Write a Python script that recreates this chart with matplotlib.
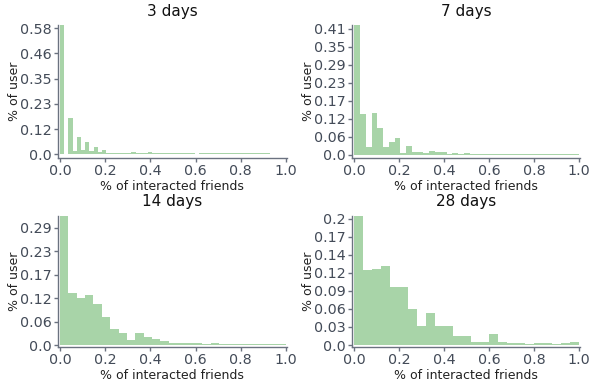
import numpy as np
import matplotlib
matplotlib.use("Agg")
import matplotlib.pyplot as plt

titles = ["3 days", "7 days", "14 days", "28 days"]

# histogram ranges (data min/max) and bin counts
x_max = [0.93, 1.0, 1.0, 1.0]
n_bins = [50, 39, 27, 25]

h3 = [0.591, 0.0, 0.166, 0.017, 0.079, 0.020, 0.056, 0.015, 0.034, 0.012,
      0.021, 0.006, 0.008, 0.008, 0.006, 0.006, 0.006, 0.012, 0.006, 0.006,
      0.007, 0.009, 0.006, 0.006, 0.006, 0.006, 0.006, 0.006, 0.006, 0.006,
      0.006, 0.006, 0.0, 0.006, 0.006, 0.006, 0.006, 0.006, 0.006, 0.006,
      0.006, 0.006, 0.006, 0.006, 0.006, 0.006, 0.006, 0.006, 0.006, 0.006]
h7 = [0.416, 0.132, 0.027, 0.134, 0.087, 0.027, 0.042, 0.055, 0.005, 0.029,
      0.010, 0.010, 0.005, 0.013, 0.008, 0.010, 0.004, 0.005, 0.004, 0.006,
      0.004, 0.004, 0.004, 0.004, 0.004, 0.004, 0.004, 0.004, 0.004, 0.004,
      0.004, 0.004, 0.004, 0.004, 0.004, 0.004, 0.004, 0.004, 0.004]
h14 = [0.318, 0.129, 0.117, 0.124, 0.102, 0.068, 0.040, 0.030, 0.013, 0.030,
       0.019, 0.014, 0.009, 0.005, 0.006, 0.004, 0.004, 0.003, 0.005, 0.003,
       0.003, 0.003, 0.003, 0.003, 0.003, 0.003, 0.003]
h28 = [0.207, 0.1205, 0.122, 0.126, 0.093, 0.093, 0.057, 0.031, 0.052, 0.031,
       0.031, 0.015, 0.015, 0.0053, 0.0053, 0.018, 0.0053, 0.0025, 0.0025, 0.001,
       0.0025, 0.0025, 0.001, 0.0025, 0.0053]
heights = [h3, h7, h14, h28]

ytick_labels = [
    ["0.0", "0.12", "0.23", "0.35", "0.46", "0.58"],
    ["0.0", "0.06", "0.12", "0.17", "0.23", "0.29", "0.35", "0.41"],
    ["0.0", "0.06", "0.12", "0.17", "0.23", "0.29"],
    ["0.0", "0.03", "0.06", "0.09", "0.12", "0.14", "0.17", "0.2"],
]
ytick_step = [0.1158, 0.0579, 0.0579, 0.02895]
xticks = [0.0, 0.2, 0.4, 0.6, 0.8, 1.0]
xtick_labels = ["0.0", "0.2", "0.4", "0.6", "0.8", "1.0"]

ylims = [(-0.0155, 0.591), (-0.0087, 0.416), (-0.0035, 0.318), (-0.0024, 0.207)]

bar_color = "#a8d4a8"
spine_color = "#6b7280"
tick_text = "#434b58"

fig = plt.figure(figsize=(5.89, 3.85), dpi=100)
rects = [
    [0.098, 0.5904, 0.3895, 0.3434],
    [0.5976, 0.5904, 0.3878, 0.3434],
    [0.098, 0.1000, 0.3895, 0.3390],
    [0.5976, 0.1000, 0.3878, 0.3390],
]

for i in range(4):
    ax = fig.add_axes(rects[i])
    edges = np.linspace(0, x_max[i], n_bins[i] + 1)
    centers = (edges[:-1] + edges[1:]) / 2
    ax.hist(centers, bins=edges, weights=heights[i], color=bar_color,
            edgecolor="none")
    ax.set_xlim(-0.01, 1.005)
    ax.set_ylim(*ylims[i])
    ax.set_xticks(xticks)
    ax.set_xticklabels(xtick_labels)
    yt = [k * ytick_step[i] for k in range(len(ytick_labels[i]))]
    ax.set_yticks(yt)
    ax.set_yticklabels(ytick_labels[i])
    for s in ["top", "right"]:
        ax.spines[s].set_visible(False)
    for s in ["left", "bottom"]:
        ax.spines[s].set_color(spine_color)
        ax.spines[s].set_linewidth(1.0)
    ax.tick_params(axis="both", colors=spine_color, labelcolor=tick_text,
                   labelsize=10.3, length=3, width=1, pad=1.5)
    ax.set_title(titles[i], fontsize=11, pad=7, color="#111111")
    ax.set_xlabel("% of interacted friends", fontsize=9, labelpad=1.5, color="#222222")
    ax.set_ylabel("% of user", fontsize=9, color="#222222")
    ax.yaxis.set_label_coords(-0.16, 0.5)

fig.savefig("out.png", dpi=100)
